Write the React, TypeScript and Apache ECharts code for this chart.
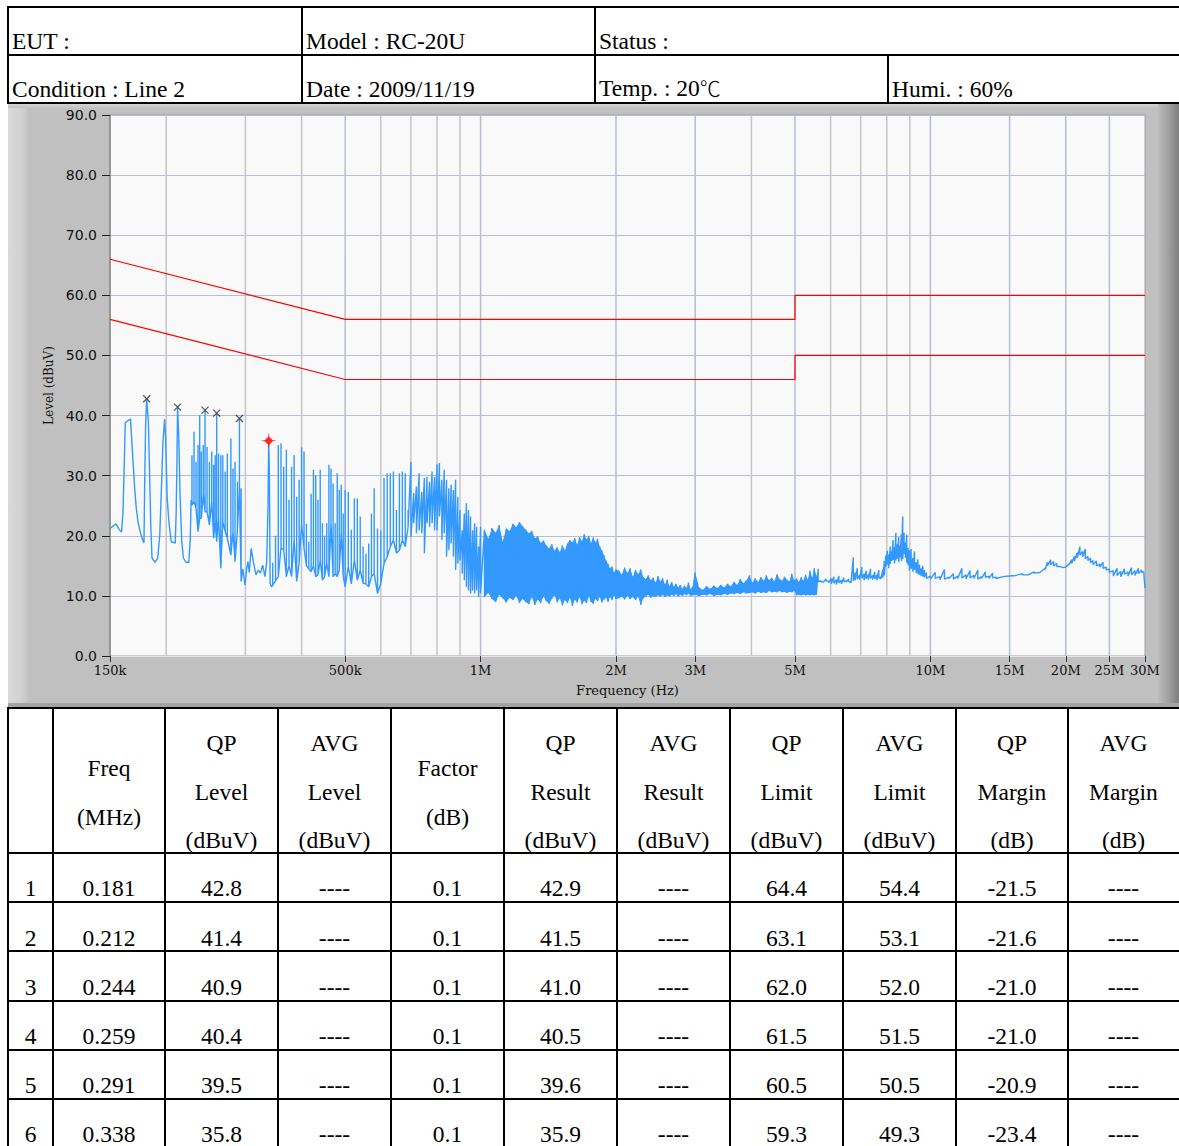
import React, { useEffect, useRef } from "react";
import * as echarts from "echarts";

// ---------- chart data ----------
const xTickFreqs = [0.15, 0.5, 1, 2, 3, 5, 10, 15, 20, 25, 30]; // MHz
const xTickLabels = ["150k", "500k", "1M", "2M", "3M", "5M", "10M", "15M", "20M", "25M", "30M"];
const majorGridFreqs = [0.5, 1, 2, 3, 5, 10, 15, 20, 25];
const minorGridFreqs = [0.2, 0.3, 0.4, 0.6, 0.7, 0.8, 0.9, 4, 6, 7, 8, 9];

const qpLimit: [number, number][] = [[0.15, 66], [0.5, 56], [5, 56], [5, 60], [30, 60]];
const avgLimit: [number, number][] = [[0.15, 56], [0.5, 46], [5, 46], [5, 50], [30, 50]];

const peakFreqs = [0.181, 0.212, 0.244, 0.259, 0.291];
const peakLevels = [42.8, 41.4, 40.9, 40.4, 39.5];
const worstFreq = 0.338;
const worstLevel = 35.8;

// sweep trace, [MHz, dBuV]
const sweepStart: [number, number][] = [
  [0.1504, 21.3], [0.1523, 21.6], [0.1547, 22.0], [0.1571, 21.1], [0.1591, 20.6], [0.1603, 23.8],
  [0.1611, 29.8], [0.1622, 38.8], [0.1641, 39.1], [0.1666, 39.4], [0.1673, 37.1], [0.1688, 32.3],
  [0.1702, 27.9], [0.1716, 24.6], [0.1731, 22.3], [0.1752, 20.6], [0.1773, 19.3], [0.1785, 18.8],
  [0.1792, 29.6], [0.18, 38.4], [0.181, 42.8], [0.1826, 38.8], [0.1838, 29.6], [0.1849, 21.3],
  [0.186, 16.3], [0.189, 15.6], [0.1915, 16.3], [0.1935, 20.1], [0.1952, 27.9], [0.1967, 35.6],
  [0.1984, 39.4], [0.1994, 36.3], [0.201, 26.3], [0.2028, 22.3], [0.2052, 19.0], [0.2095, 18.8],
  [0.2105, 24.0], [0.2113, 32.3], [0.212, 41.4], [0.2132, 36.8], [0.2147, 26.8], [0.2166, 19.0],
  [0.2185, 16.3], [0.2212, 15.6], [0.2245, 15.6], [0.2262, 19.3], [0.2272, 26.0],
];
// [MHz, high, low]
const spikesA: [number, number, number][] = [
  [0.2282, 33.4, 25.1], [0.2306, 37.3, 25.7], [0.233, 32.3, 24.6], [0.2354, 35.1, 20.7],
  [0.2374, 40.1, 22.9], [0.2394, 34.0, 22.9], [0.2418, 35.1, 26.8], [0.244, 40.9, 24.0],
  [0.2465, 34.8, 24.0], [0.2495, 32.3, 21.8], [0.2525, 34.0, 25.7], [0.255, 31.8, 19.6],
  [0.257, 33.4, 22.3], [0.259, 40.4, 19.0], [0.2615, 33.7, 22.9], [0.2645, 33.4, 14.6],
  [0.2672, 33.4, 22.3], [0.2705, 30.7, 20.7], [0.2735, 33.7, 19.6], [0.2785, 36.2, 16.8],
  [0.2815, 31.2, 20.7], [0.2845, 32.3, 15.7], [0.288, 29.0, 21.0], [0.291, 39.5, 27.9],
  [0.2935, 27.9, 12.4],
];
const valley: [number, number][] = [
  [0.296, 14.5], [0.2994, 11.8], [0.302, 14.6], [0.304, 15.7], [0.306, 13.9], [0.309, 17.9],
  [0.3124, 15.7], [0.3168, 13.5], [0.3205, 14.3], [0.324, 13.8], [0.3278, 15.1], [0.3317, 13.2],
  [0.3346, 15.7], [0.3368, 25.0], [0.338, 35.8], [0.3392, 30.4], [0.3405, 12.1], [0.343, 11.5],
];
const spikesB: [number, number, number][] = [
  [0.345, 15.5, 11.8], [0.35, 20.0, 12.5], [0.355, 35.1, 13.2], [0.36, 35.4, 18.0],
  [0.365, 31.5, 17.6], [0.37, 34.3, 13.2], [0.375, 26.0, 15.0], [0.38, 31.5, 13.2],
  [0.385, 33.4, 19.3], [0.39, 26.5, 12.4], [0.395, 29.3, 15.4], [0.4, 34.7, 22.0],
  [0.405, 34.0, 18.0], [0.41, 22.0, 15.0], [0.415, 19.0, 14.5], [0.42, 27.0, 14.0],
  [0.425, 31.0, 15.0], [0.43, 30.1, 13.2], [0.435, 26.0, 13.5], [0.44, 31.0, 15.9],
  [0.445, 22.1, 12.6], [0.45, 20.0, 13.2], [0.455, 22.1, 15.4], [0.46, 31.8, 13.2],
  [0.465, 31.2, 22.1], [0.47, 28.7, 13.2], [0.475, 22.1, 13.7], [0.48, 30.4, 13.2],
  [0.485, 27.6, 14.3], [0.49, 28.5, 20.4], [0.495, 23.7, 13.2], [0.5, 27.6, 11.5],
  [0.508, 27.3, 14.9], [0.516, 21.0, 12.0], [0.524, 26.2, 15.9], [0.532, 26.2, 12.6],
  [0.54, 23.2, 14.3], [0.548, 18.2, 12.1], [0.556, 17.0, 12.0], [0.564, 18.7, 11.5],
  [0.572, 23.7, 13.2], [0.58, 27.9, 13.7], [0.59, 21.2, 10.4], [0.6, 20.9, 12.1],
  [0.61, 29.6, 15.4], [0.62, 30.4, 16.5], [0.63, 30.4, 18.2], [0.64, 30.7, 19.3],
  [0.65, 24.3, 17.1], [0.66, 30.4, 17.6], [0.67, 30.7, 19.3], [0.68, 30.4, 18.2],
  [0.69, 24.3, 21.5], [0.7, 32.3, 19.8], [0.71, 27.1, 22.1], [0.72, 28.2, 20.4],
  [0.73, 30.4, 20.9], [0.74, 27.3, 20.4], [0.75, 29.6, 17.1], [0.76, 29.8, 22.1],
  [0.77, 29.0, 21.5], [0.78, 30.7, 22.1], [0.79, 29.8, 20.9], [0.8, 31.9, 20.9],
  [0.81, 32.1, 23.2], [0.82, 29.3, 19.3], [0.83, 31.0, 20.4], [0.84, 29.3, 16.5],
  [0.85, 27.9, 17.6], [0.86, 28.5, 18.7], [0.87, 27.6, 16.5], [0.88, 29.3, 14.3],
  [0.89, 26.5, 15.4], [0.9, 24.3, 15.9], [0.91, 20.9, 13.7], [0.92, 23.7, 12.6],
  [0.93, 25.4, 11.5], [0.94, 24.3, 10.9], [0.95, 23.2, 10.4], [0.96, 20.9, 10.9],
  [0.97, 22.1, 10.4], [0.98, 21.5, 10.9], [0.99, 18.2, 9.8], [1.0, 21.5, 10.4],
];
const bandC: [number, number, number][] = [
  [1.02, 21.0, 9.8], [1.04, 19.5, 10.5], [1.06, 21.3, 9.5], [1.08, 20.5, 9.0], [1.1, 21.8, 10.2],
  [1.12, 19.0, 9.6], [1.14, 21.2, 8.9], [1.16, 20.8, 9.7], [1.18, 22.0, 9.3], [1.2, 21.4, 10.0],
  [1.22, 22.3, 8.8], [1.24, 21.6, 9.5], [1.26, 21.0, 9.0], [1.28, 20.4, 8.6], [1.3, 20.8, 9.8],
  [1.32, 19.6, 8.5], [1.34, 19.9, 9.4], [1.36, 18.8, 8.8], [1.38, 19.2, 9.9], [1.4, 18.4, 9.1],
  [1.42, 17.9, 8.7], [1.44, 18.6, 9.5], [1.46, 17.5, 10.1], [1.48, 18.1, 8.9], [1.5, 17.3, 9.6],
  [1.52, 18.4, 8.4], [1.54, 17.6, 9.3], [1.56, 18.7, 8.8], [1.58, 19.3, 9.7], [1.6, 18.9, 8.3],
  [1.62, 19.6, 9.4], [1.64, 18.5, 8.9], [1.66, 19.8, 9.8], [1.68, 19.1, 8.6], [1.7, 20.3, 9.2],
  [1.72, 19.4, 8.8], [1.74, 20.0, 9.9], [1.76, 18.8, 9.0], [1.78, 19.7, 8.7], [1.8, 18.9, 9.5],
  [1.82, 19.5, 9.1], [1.84, 18.2, 9.8], [1.86, 17.6, 8.9], [1.88, 16.8, 9.4], [1.9, 15.9, 9.7],
  [1.92, 15.3, 9.0], [1.94, 14.6, 9.8], [1.96, 14.9, 9.3], [1.98, 13.9, 10.1], [2.0, 14.4, 9.5],
];
const bandD: [number, number, number][] = [
  [2.03, 14.2, 9.6], [2.06, 13.5, 9.9], [2.09, 14.7, 9.4], [2.12, 13.8, 10.0], [2.15, 14.6, 9.5],
  [2.18, 13.2, 9.8], [2.21, 14.3, 9.3], [2.24, 13.6, 9.9], [2.27, 14.4, 8.5], [2.3, 13.1, 9.6],
  [2.33, 12.8, 9.9], [2.36, 13.4, 10.2], [2.39, 12.6, 9.7], [2.42, 13.0, 10.0], [2.45, 12.2, 9.8],
  [2.48, 13.3, 10.1], [2.51, 12.4, 9.9], [2.54, 12.9, 10.2], [2.57, 11.9, 9.8], [2.6, 12.7, 10.1],
  [2.63, 11.6, 9.9], [2.66, 12.3, 10.2], [2.69, 11.5, 10.0], [2.72, 12.0, 10.3], [2.75, 11.4, 9.9],
  [2.78, 11.8, 10.2], [2.81, 11.2, 10.0], [2.84, 11.7, 10.3], [2.87, 11.3, 10.1], [2.9, 12.2, 10.4],
  [2.93, 11.1, 10.0], [2.96, 11.5, 10.1], [3.0, 13.9, 10.2], [3.06, 11.4, 10.0], [3.12, 11.0, 10.2],
  [3.18, 11.6, 10.1], [3.24, 11.2, 10.3], [3.3, 11.7, 10.0], [3.36, 11.3, 10.2], [3.42, 11.8, 10.1],
  [3.48, 11.4, 10.3], [3.54, 12.0, 10.2], [3.6, 11.6, 10.4], [3.66, 12.3, 10.3], [3.72, 11.8, 10.5],
  [3.78, 12.8, 10.3], [3.84, 12.1, 10.6], [3.9, 12.6, 10.4], [3.96, 13.4, 10.5], [4.02, 12.2, 10.6],
  [4.08, 12.9, 10.4], [4.14, 12.3, 10.7], [4.2, 13.1, 10.5], [4.26, 12.5, 10.6], [4.32, 13.4, 10.5],
  [4.38, 12.6, 10.8], [4.44, 13.0, 10.6], [4.5, 12.4, 10.7], [4.56, 13.6, 10.6], [4.62, 12.8, 10.8],
  [4.68, 12.5, 10.6], [4.74, 13.2, 10.7], [4.8, 12.7, 10.5], [4.86, 12.4, 10.7], [4.92, 13.7, 10.6],
  [4.98, 12.6, 10.8], [5.04, 12.9, 10.1], [5.1, 12.3, 10.2], [5.16, 13.1, 10.1], [5.22, 12.5, 10.2],
  [5.28, 13.5, 10.1], [5.34, 12.7, 10.2], [5.4, 14.2, 10.1], [5.46, 13.0, 10.2], [5.52, 14.6, 10.1],
  [5.58, 13.4, 10.2],
];
const tailE: [number, number, number][] = [
  [5.63, 14.5, 12.3], [5.7, 12.6, 12.4], [5.78, 12.3, 12.2], [5.86, 12.8, 12.5], [5.94, 12.4, 12.2],
  [6.02, 12.9, 12.0], [6.1, 13.2, 12.1], [6.18, 12.7, 11.9], [6.26, 13.3, 12.2], [6.34, 12.6, 12.0],
  [6.42, 13.0, 12.4], [6.5, 12.5, 12.3], [6.58, 12.8, 12.4], [6.66, 12.2, 12.1], [6.74, 16.4, 12.5],
  [6.8, 13.9, 12.6], [6.88, 14.6, 12.8], [6.96, 13.5, 12.7], [7.04, 14.8, 12.9], [7.12, 13.7, 12.6],
  [7.2, 14.2, 12.8], [7.28, 13.6, 12.7], [7.36, 14.5, 12.9], [7.44, 13.4, 12.7], [7.52, 14.0, 12.8],
  [7.6, 13.5, 12.6], [7.68, 14.3, 12.9], [7.76, 13.2, 12.8], [7.84, 14.4, 13.0], [7.9, 15.8, 13.4],
  [7.96, 16.7, 14.8], [8.02, 17.5, 15.2], [8.08, 16.9, 14.6], [8.14, 18.2, 15.3], [8.2, 17.4, 15.8],
  [8.26, 19.3, 16.0], [8.32, 18.1, 15.4], [8.38, 20.5, 15.9], [8.44, 18.6, 16.2], [8.5, 19.8, 15.6],
  [8.56, 18.4, 16.4], [8.62, 20.3, 15.8], [8.68, 23.2, 16.1], [8.74, 20.5, 17.0], [8.8, 18.9, 16.3],
  [8.86, 20.2, 15.5], [8.92, 18.0, 15.1], [8.98, 17.6, 14.2], [9.06, 17.8, 14.5], [9.14, 16.3, 14.0],
  [9.22, 17.4, 14.3], [9.3, 15.6, 13.8], [9.38, 16.1, 13.6], [9.46, 15.2, 13.5], [9.54, 14.6, 13.3],
  [9.62, 15.0, 13.2], [9.7, 14.3, 13.1], [9.8, 13.9, 12.9], [10.0, 13.3, 12.8], [10.25, 13.9, 12.9],
  [10.5, 13.2, 12.7], [10.75, 14.4, 12.8], [11.0, 13.1, 12.9], [11.25, 13.7, 12.8], [11.5, 13.3, 12.9],
  [11.75, 14.6, 13.0], [12.0, 13.5, 12.8], [12.25, 14.2, 13.0], [12.5, 13.4, 12.9], [12.75, 14.3, 12.8],
  [13.0, 13.2, 12.9], [13.25, 14.0, 13.1], [13.5, 13.3, 12.9], [13.75, 13.8, 13.0], [14.0, 13.1, 12.9],
  [14.5, 13.2, 13.1], [15.0, 13.3, 13.2], [15.5, 13.4, 13.3], [16.0, 13.7, 13.5], [16.5, 13.5, 13.4],
  [17.0, 14.0, 13.8], [17.5, 13.9, 13.8], [18.0, 14.6, 14.4], [18.2, 15.6, 15.0], [18.5, 16.0, 15.2],
  [18.8, 15.7, 15.0], [19.1, 15.4, 14.9], [19.4, 14.9, 14.8], [19.7, 14.7, 14.6], [20.0, 14.8, 14.7],
  [20.3, 15.3, 15.1], [20.6, 16.0, 15.4], [20.9, 16.6, 15.8], [21.2, 17.2, 16.3], [21.5, 18.2, 16.8],
  [21.8, 17.4, 16.5], [22.1, 17.8, 16.2], [22.4, 16.6, 15.9], [22.7, 16.3, 15.5], [23.0, 15.9, 15.2],
  [23.4, 15.8, 15.0], [23.8, 15.3, 14.8], [24.2, 15.6, 14.6], [24.6, 14.8, 14.3], [25.0, 14.5, 13.9],
  [25.5, 14.2, 13.3], [26.0, 14.6, 13.4], [26.5, 14.1, 13.2], [27.0, 14.5, 13.6], [27.5, 14.0, 13.3],
  [28.0, 14.7, 13.5], [28.5, 14.2, 13.4], [29.0, 14.6, 13.7], [29.5, 14.3, 13.9], [29.8, 14.0, 14.0],
  [30.0, 11.3, 11.3],
];

// ---------- table data ----------
const headerRow1 = ["EUT :", "Model : RC-20U", "Status :"];
const headerRow2 = ["Condition : Line 2", "Date : 2009/11/19", "Temp. : 20", "Humi. : 60%"];
const tempUnit = "℃";

const colHeads: string[][] = [
  [], ["Freq", "(MHz)"], ["QP", "Level", "(dBuV)"], ["AVG", "Level", "(dBuV)"], ["Factor", "(dB)"],
  ["QP", "Result", "(dBuV)"], ["AVG", "Result", "(dBuV)"], ["QP", "Limit", "(dBuV)"],
  ["AVG", "Limit", "(dBuV)"], ["QP", "Margin", "(dB)"], ["AVG", "Margin", "(dB)"],
];
const rowNo = ["1", "2", "3", "4", "5", "6"];
const freqCol = ["0.181", "0.212", "0.244", "0.259", "0.291", "0.338"];
const qpLevelCol = ["42.8", "41.4", "40.9", "40.4", "39.5", "35.8"];
const avgLevelCol = ["----", "----", "----", "----", "----", "----"];
const factorCol = ["0.1", "0.1", "0.1", "0.1", "0.1", "0.1"];
const qpResultCol = ["42.9", "41.5", "41.0", "40.5", "39.6", "35.9"];
const avgResultCol = ["----", "----", "----", "----", "----", "----"];
const qpLimitCol = ["64.4", "63.1", "62.0", "61.5", "60.5", "59.3"];
const avgLimitCol = ["54.4", "53.1", "52.0", "51.5", "50.5", "49.3"];
const qpMarginCol = ["-21.5", "-21.6", "-21.0", "-21.0", "-20.9", "-23.4"];
const avgMarginCol = ["----", "----", "----", "----", "----", "----"];

// ---------- layout ----------
const SERIF = '"Liberation Serif", "Times New Roman", serif';
const FS = 23.5;
const colX = [8, 53, 165, 278, 391, 504, 617, 730, 843, 956, 1068, 1179];
const rowLines = [708, 853, 902, 951, 1001, 1050, 1099, 1148];

const HLine = ({ x1, x2, y }: { x1: number; x2: number; y: number }) => (
  <div style={{ position: "absolute", left: x1 - 1, top: y - 1, width: x2 - x1 + 2, height: 2, background: "#000" }} />
);
const VLine = ({ x, y1, y2 }: { x: number; y1: number; y2: number }) => (
  <div style={{ position: "absolute", left: x - 1, top: y1 - 1, width: 2, height: y2 - y1 + 2, background: "#000" }} />
);
const Txt = ({ x, w, base, align, children }: { x: number; w?: number; base: number; align?: "left" | "center"; children: React.ReactNode }) => (
  <div
    style={{
      position: "absolute", left: x, top: base - 0.8375 * FS, width: w, height: FS,
      fontFamily: SERIF, fontSize: FS, lineHeight: `${FS}px`, textAlign: align || "left",
      whiteSpace: "nowrap", color: "#000",
    }}
  >
    {children}
  </div>
);

function Chart() {
  const ref = useRef<HTMLDivElement>(null);
  useEffect(() => {
    if (!ref.current) return;
    const chart = echarts.init(ref.current, undefined, { renderer: "svg" });
    const lg = (f: number) => Math.log10(f);
    const trace: (number | string)[][] = [];
    const comb = (f: number, h: number, l: number) => {
      trace.push([lg(f), l]); trace.push([lg(f), h]); trace.push([lg(f), l]);
    };
    const zig = (f: number, h: number, l: number) => {
      trace.push([lg(f), h]);
      if (l !== h) trace.push([lg(f), l]);
    };
    sweepStart.forEach(([f, l]) => trace.push([lg(f), l]));
    spikesA.forEach(([f, h, l]) => comb(f, h, l));
    valley.forEach(([f, l]) => trace.push([lg(f), l]));
    spikesB.forEach(([f, h, l]) => (f < 0.7 ? comb(f, h, l) : zig(f, h, l)));
    [bandC, bandD, tailE].forEach((arr) => arr.forEach(([f, h, l]) => zig(f, h, l)));

    const band = bandC.concat(bandD);

    const gridLineData = (freqs: number[]) => {
      const d: (number | string)[][] = [];
      freqs.forEach((f) => { d.push([lg(f), 0]); d.push([lg(f), 90]); d.push([lg(f), "-"]); });
      return d;
    };
    const tickVals = xTickFreqs.map(lg);
    const fmtX = (v: number) => {
      const i = tickVals.findIndex((t) => Math.abs(t - v) < 1e-6);
      return i >= 0 ? xTickLabels[i] : "";
    };
    const option: any = {
      animation: false,
      backgroundColor: "transparent",
      grid: {
        left: 110, right: 34, top: 11, bottom: 51, show: true,
        backgroundColor: "#f9f9f9", borderColor: "#a0a0a0", borderWidth: 1,
        containLabel: false, outerBoundsMode: "none",
      },
      xAxis: {
        type: "value", min: lg(0.15), max: lg(30),
        axisLine: { show: true, onZero: false, lineStyle: { color: "#e6e6e6", width: 1 } },
        axisTick: { show: true, customValues: tickVals, length: 6, lineStyle: { color: "#333" } },
        axisLabel: {
          customValues: tickVals, formatter: fmtX, margin: 8, color: "#111",
          fontFamily: "DejaVu Serif", fontSize: 13,
        },
        splitLine: { show: false },
        name: "Frequency (Hz)", nameLocation: "middle", nameGap: 28,
        nameTextStyle: { fontFamily: "DejaVu Serif", fontSize: 13, color: "#111" },
      },
      yAxis: {
        type: "value", min: 0, max: 90, interval: 10,
        axisLine: { show: true, onZero: false, lineStyle: { color: "#8a8a8a", width: 1.5 } },
        axisTick: { show: true, length: 8, lineStyle: { color: "#222" } },
        axisLabel: {
          formatter: (v: number) => v.toFixed(1), margin: 13, color: "#111",
          fontFamily: "DejaVu Sans", fontSize: 14,
        },
        splitLine: { show: true, lineStyle: { color: "#b6bdd6", width: 1 } },
        name: "Level (dBuV)", nameLocation: "middle", nameGap: 55,
        nameTextStyle: { fontFamily: "DejaVu Serif", fontSize: 12, color: "#111" },
      },
      series: [
        {
          type: "line", data: gridLineData(minorGridFreqs), symbol: "none", silent: true, z: 1,
          lineStyle: { color: "#c6c6c6", width: 1.5 }, connectNulls: false,
        },
        {
          type: "line", data: gridLineData(majorGridFreqs), symbol: "none", silent: true, z: 1,
          lineStyle: { color: "#b6bdd6", width: 1.5 }, connectNulls: false,
        },
        {
          type: "custom", silent: true, z: 2, clip: true,
          data: [[lg(band[0][0]), band[0][1]]],
          renderItem: (_params: any, api: any) => {
            const top = band.map(([f, h]) => api.coord([lg(f), h]));
            const bottom = band.slice().reverse().map(([f, , l]) => api.coord([lg(f), l]));
            return { type: "polygon", shape: { points: top.concat(bottom) }, style: { fill: "#3399ff" } };
          },
        },
        {
          type: "line", data: trace, symbol: "none", silent: true, z: 3,
          lineStyle: { color: "#3399ff", width: 1.4 },
        },
        {
          type: "line", data: qpLimit.map(([f, l]) => [lg(f), l]), symbol: "none", silent: true, z: 4,
          lineStyle: { color: "#ff0000", width: 1.2 },
        },
        {
          type: "line", data: avgLimit.map(([f, l]) => [lg(f), l]), symbol: "none", silent: true, z: 4,
          lineStyle: { color: "#ff0000", width: 1.2 },
        },
        {
          type: "scatter", data: peakFreqs.map((f, i) => [lg(f), peakLevels[i]]), silent: true, z: 5,
          symbol: "path://M0,0L10,10M10,0L0,10", symbolSize: 7,
          itemStyle: { color: "rgba(0,0,0,0)", borderColor: "#333", borderWidth: 1.3 },
        },
        {
          type: "scatter", data: [[lg(worstFreq), worstLevel]], silent: true, z: 5,
          symbol: "path://M0,-8L1.3,-1.3L8,0L1.3,1.3L0,8L-1.3,1.3L-8,0L-1.3,-1.3Z", symbolSize: 16,
          itemStyle: { color: "#ff1a1a" },
        },
        {
          type: "scatter", data: [[lg(worstFreq), worstLevel]], silent: true, z: 6,
          symbol: "circle", symbolSize: 7, itemStyle: { color: "#ff1a1a" },
        },
      ],
    };
    chart.setOption(option);
    return () => chart.dispose();
  }, []);
  return <div ref={ref} style={{ position: "absolute", left: 0, top: 104, width: 1179, height: 603 }} />;
}

export default function App() {
  const dataCols = [rowNo, freqCol, qpLevelCol, avgLevelCol, factorCol, qpResultCol, avgResultCol,
    qpLimitCol, avgLimitCol, qpMarginCol, avgMarginCol];
  return (
    <div style={{ position: "absolute", left: 0, top: 0, width: 1179, height: 1146, overflow: "hidden", background: "#fff" }}>
      {/* header table */}
      <HLine x1={8} x2={1179} y={7} />
      <HLine x1={8} x2={1179} y={55} />
      <HLine x1={8} x2={1179} y={103} />
      <VLine x={8} y1={7} y2={103} />
      <VLine x={302} y1={7} y2={103} />
      <VLine x={595} y1={7} y2={103} />
      <VLine x={888} y1={55} y2={103} />
      <Txt x={12} base={50}>{headerRow1[0]}</Txt>
      <Txt x={306} base={50}>{headerRow1[1]}</Txt>
      <Txt x={599} base={50}>{headerRow1[2]}</Txt>
      <Txt x={12} base={98}>{headerRow2[0]}</Txt>
      <Txt x={306} base={98}>{headerRow2[1]}</Txt>
      <Txt x={599} base={96}>
        {headerRow2[2]}
        <span style={{ fontFamily: '"Noto Sans CJK SC", "Noto Sans CJK JP", sans-serif', fontWeight: 300, fontSize: 21 }}>{tempUnit}</span>
      </Txt>
      <Txt x={892} base={98}>{headerRow2[3]}</Txt>

      {/* gray panel */}
      <div style={{ position: "absolute", left: 8, top: 104, width: 1171, height: 603, background: "#c0c0c0" }} />
      <div style={{ position: "absolute", left: 8, top: 104, width: 20, height: 603, background: "linear-gradient(to right, #dadada, #d0d0d0 70%, #c4c4c4)" }} />
      <div style={{ position: "absolute", left: 8, top: 104, width: 1171, height: 4, background: "linear-gradient(to bottom, #d2d2d2, #c4c4c4)" }} />
      <div style={{ position: "absolute", left: 1158, top: 104, width: 21, height: 603, background: "linear-gradient(to right, #bdbdbd, #9c9c9c 55%, #7e7e7e)" }} />
      <div style={{ position: "absolute", left: 8, top: 703, width: 1171, height: 4, background: "#a4a4a4" }} />
      <Chart />

      {/* result table */}
      {rowLines.map((y) => <HLine key={"h" + y} x1={8} x2={1179} y={y} />)}
      {colX.slice(0, 11).map((x) => <VLine key={"v" + x} x={x} y1={708} y2={1160} />)}
      {colHeads.map((lines, c) =>
        lines.map((t, k) => (
          <Txt key={`hd${c}-${k}`} x={colX[c]} w={colX[c + 1] - colX[c]} align="center"
            base={lines.length === 3 ? 752 + k * 48.5 : 777 + k * 48.5}>{t}</Txt>
        ))
      )}
      {dataCols.map((col, c) =>
        col.map((t, r) => (
          <Txt key={`d${c}-${r}`} x={colX[c]} w={colX[c + 1] - colX[c]} align="center" base={897 + r * 49.2}>{t}</Txt>
        ))
      )}
    </div>
  );
}
